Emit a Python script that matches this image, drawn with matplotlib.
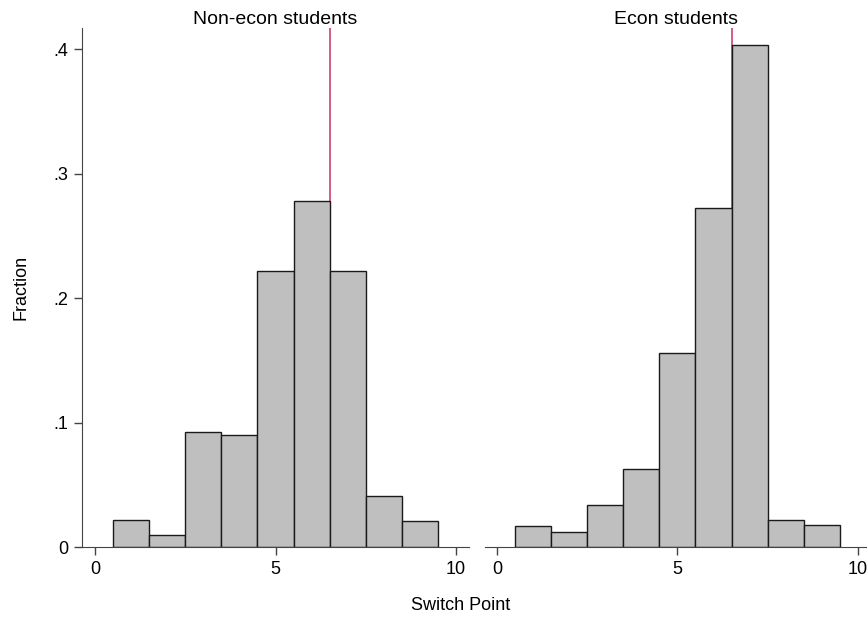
import numpy as np
import matplotlib.pyplot as plt

plt.rcParams['font.family'] = ['Liberation Sans', 'DejaVu Sans']

# Switch point bins (1..9) and fractions
switch_points = [1, 2, 3, 4, 5, 6, 7, 8, 9]
non_econ = [0.022, 0.010, 0.092, 0.090, 0.222, 0.278, 0.222, 0.041, 0.021]
econ = [0.017, 0.012, 0.034, 0.063, 0.156, 0.272, 0.403, 0.022, 0.018]
ref_line = 6.5
yticks = [0, 0.1, 0.2, 0.3, 0.4]
ytick_labels = ['0', '.1', '.2', '.3', '.4']
xticks = [0, 5, 10]

fig = plt.figure(figsize=(8.67, 6.18), dpi=100)
ax1 = fig.add_axes([82/867, 1-547/618, (469-82)/867, (547-28)/618])
ax2 = fig.add_axes([485/867, 1-547/618, (867-485)/867, (547-28)/618])

line_col = '#d65a82'
spine_col = '#444444'

for ax, vals, title in [(ax1, non_econ, 'Non-econ students'), (ax2, econ, 'Econ students')]:
    ax.axvline(ref_line, color=line_col, lw=1.4, zorder=0)
    ax.bar(switch_points, vals, width=1, color='#bfbfbf', edgecolor='#1a1a1a',
           linewidth=1.0, zorder=2)
    ax.set_ylim(0, 0.417)
    ax.set_xticks(xticks)
    ax.set_xticklabels([str(t) for t in xticks])
    ax.set_title(title, fontsize=14, pad=2)
    for s in ['top', 'right']:
        ax.spines[s].set_visible(False)
    ax.spines['bottom'].set_color(spine_col)
    ax.spines['left'].set_color(spine_col)
    ax.tick_params(axis='both', direction='out', length=6, width=1,
                   color=spine_col, labelsize=13, pad=4)

ax1.set_xlim(-0.36, 10.36)
ax2.set_xlim(-0.33, 10.25)

ax1.set_yticks(yticks)
ax1.set_yticklabels(ytick_labels)
ax1.set_ylabel('Fraction', fontsize=13, labelpad=17)

ax2.spines['left'].set_visible(False)
ax2.set_yticks([])

fig.text(461/867, 1-605/618, 'Switch Point', fontsize=13, ha='center', va='center')

plt.savefig('out.png', dpi=100)
